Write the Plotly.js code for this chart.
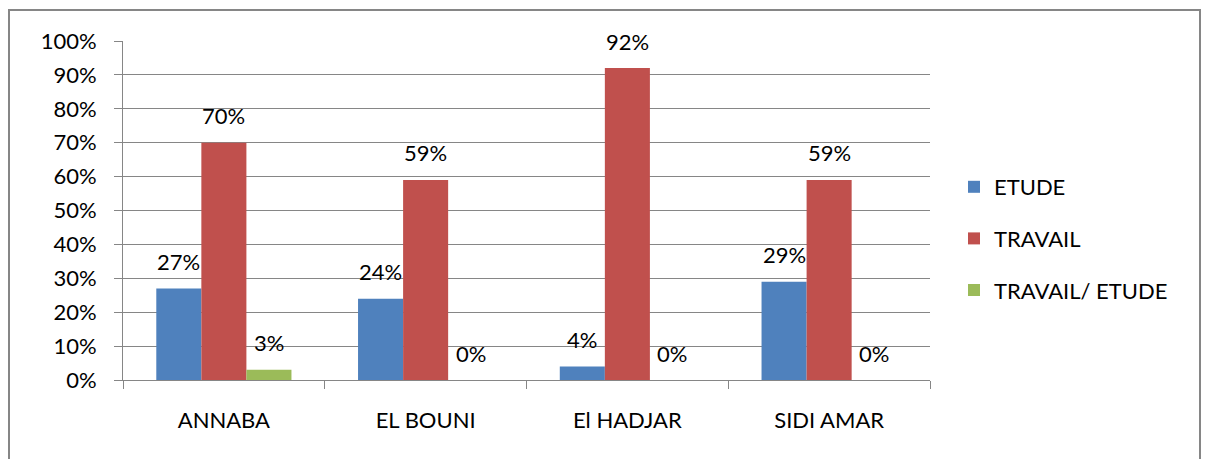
<!DOCTYPE html>
<html>
<head>
<meta charset="utf-8">
<script src="https://cdn.plot.ly/plotly-3.0.1.min.js"></script>
<style>html,body{margin:0;padding:0;background:#fff;}#chart{width:1205px;height:459px;}</style>
</head>
<body>
<div id="chart"></div>
<script>
const categories = ["ANNABA", "EL BOUNI", "El HADJAR", "SIDI AMAR"];
const seriesNames = ["ETUDE", "TRAVAIL", "TRAVAIL/ ETUDE"];
const etude = [0.27, 0.24, 0.04, 0.29];
const travail = [0.70, 0.59, 0.92, 0.59];
const travailEtude = [0.03, 0, 0, 0];
const colors = ["#4F81BD", "#C0504D", "#9BBB59"];

const allSeries = [etude, travail, travailEtude];
const FONT = "Lato, 'Open Sans', sans-serif";
const FS = 22;
const grey = "#868686";
const bargap = 0.33;
const barW = (1 - bargap) / allSeries.length;

const traces = allSeries.map((vals, k) => ({
  type: "bar",
  name: seriesNames[k],
  x: categories,
  y: vals,
  marker: {color: colors[k], line: {width: 0}},
  legendgroup: "g" + k,
  hoverinfo: "skip"
}));

const annotations = [];
allSeries.forEach((vals, k) => {
  vals.forEach((v, i) => {
    annotations.push({
      x: i + (k - (allSeries.length - 1) / 2) * barW,
      y: v,
      xref: "x", yref: "y",
      text: Math.round(v * 100) + "%",
      showarrow: false,
      yanchor: "middle",
      yshift: 27,
      font: {family: FONT, size: FS, color: "#000"}
    });
  });
});

const pl = 123, pr = 930, pt = 41, pb = 380;
const px = v => (v - pl) / (pr - pl);
const py = v => (pb - v) / (pb - pt);

const layout = {
  width: 1205, height: 459,
  margin: {l: pl, r: 1205 - pr, t: pt, b: 459 - pb, pad: 0},
  paper_bgcolor: "#fff", plot_bgcolor: "#fff",
  barmode: "group",
  bargap: bargap,
  bargroupgap: 0,
  font: {family: FONT, size: FS, color: "#000"},
  showlegend: true,
  legend: {
    xref: "container", yref: "container",
    x: 954 / 1205, y: 1 - 238.5 / 459,
    xanchor: "left", yanchor: "middle",
    font: {family: FONT, size: FS, color: "#000"},
    tracegroupgap: 20,
    itemwidth: 30,
    bgcolor: "rgba(0,0,0,0)"
  },
  xaxis: {
    type: "category",
    showline: true, linecolor: grey, linewidth: 1,
    ticks: "outside", tickson: "boundaries", ticklen: 8, tickcolor: grey, tickwidth: 1,
    ticklabelstandoff: 21,
    showgrid: false,
    tickfont: {family: FONT, size: FS, color: "#000"},
    fixedrange: true
  },
  yaxis: {
    range: [0, 1], dtick: 0.1, tick0: 0,
    tickformat: ".0%",
    showline: true, linecolor: grey, linewidth: 1,
    ticks: "outside", ticklen: 8, tickcolor: grey, tickwidth: 1,
    ticklabelstandoff: 13,
    showgrid: true, gridcolor: grey, gridwidth: 1,
    zeroline: false,
    tickfont: {family: FONT, size: FS, color: "#000"},
    fixedrange: true
  },
  annotations: annotations,
  shapes: [{
    type: "rect", xref: "paper", yref: "paper",
    x0: px(9), x1: px(1200), y0: py(475), y1: py(10),
    line: {color: grey, width: 2}, fillcolor: "rgba(0,0,0,0)", layer: "below"
  }]
};

Plotly.newPlot("chart", traces, layout, {displayModeBar: false, staticPlot: true});
</script>
</body>
</html>
